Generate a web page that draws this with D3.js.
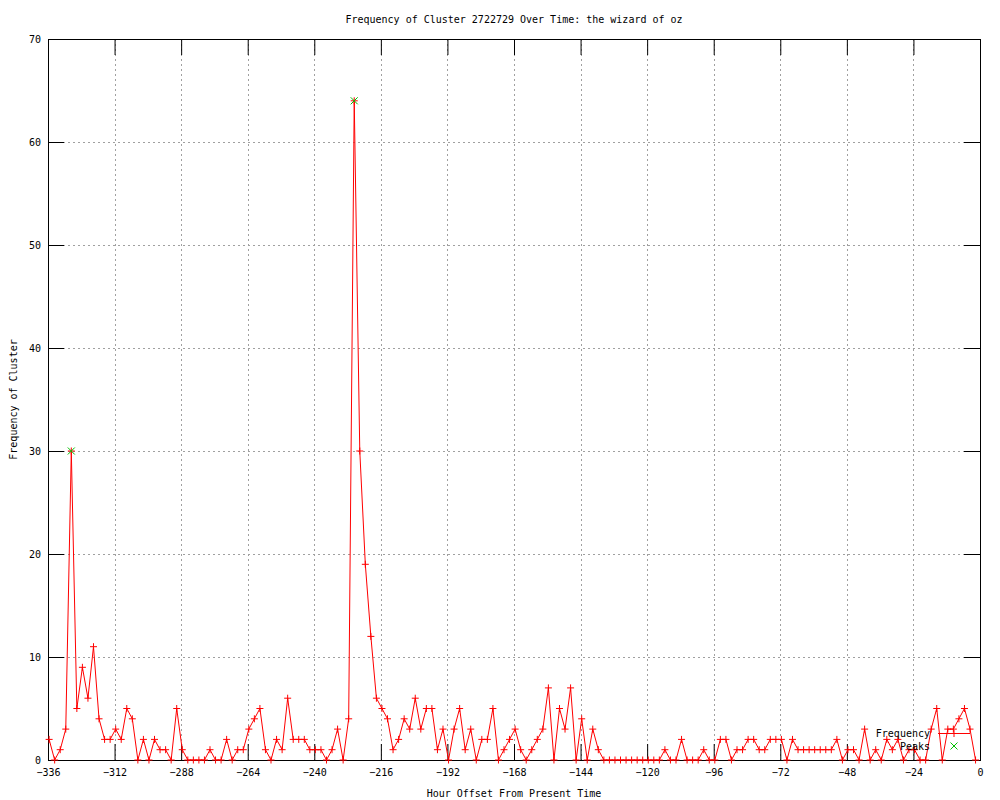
<!DOCTYPE html>
<html>
<head>
<meta charset="utf-8">
<script src="https://cdn.jsdelivr.net/npm/d3@7"></script>
<style>
  body { margin: 0; background: #fff; }
  svg text { font-family: "DejaVu Sans Mono", monospace; font-size: 10px; fill: #000; }
</style>
</head>
<body>
<svg width="1000" height="800"></svg>
<script>
// samples every 2 hours, first one at -335.6 h
var startHour = -335.6,
    stepHours = 2;

var counts = [
  2, 0, 1, 3, 30, 5, 9, 6, 11, 4, 2, 2, 3, 2, 5, 4, 0, 2, 0, 2,
  1, 1, 0, 5, 1, 0, 0, 0, 0, 1, 0, 0, 2, 0, 1, 1, 3, 4, 5, 1,
  0, 2, 1, 6, 2, 2, 2, 1, 1, 1, 0, 1, 3, 0, 4, 64, 30, 19, 12, 6,
  5, 4, 1, 2, 4, 3, 6, 3, 5, 5, 1, 3, 0, 3, 5, 1, 3, 0, 2, 2,
  5, 0, 1, 2, 3, 1, 0, 1, 2, 3, 7, 0, 5, 3, 7, 0, 4, 0, 3, 1,
  0, 0, 0, 0, 0, 0, 0, 0, 0, 0, 0, 1, 0, 0, 2, 0, 0, 0, 1, 0,
  0, 2, 2, 0, 1, 1, 2, 2, 1, 1, 2, 2, 2, 0, 2, 1, 1, 1, 1, 1,
  1, 1, 2, 0, 1, 1, 0, 3, 0, 1, 0, 2, 1, 2, 0, 1, 1, 0, 0, 3,
  5, 0, 3, 3, 4, 5, 3, 0
];

var peakHours = [-327.6, -225.6],
    peakCounts = [30, 64];

var xTicks = [-336, -312, -288, -264, -240, -216, -192, -168, -144, -120, -96, -72, -48, -24, 0],
    yTicks = [0, 10, 20, 30, 40, 50, 60, 70];

var data = counts.map(function(c, i) { return {hour: startHour + i * stepHours, count: c}; });
var peaks = peakHours.map(function(h, i) { return {hour: h, count: peakCounts[i]}; });

var svg = d3.select("svg"),
    margin = {top: 39, right: 20, bottom: 40, left: 48},
    width = 1000 - margin.left - margin.right,
    height = 800 - margin.top - margin.bottom,
    g = svg.append("g").attr("transform", "translate(" + margin.left + "," + margin.top + ")");

var x = d3.scaleLinear().domain([-336, 0]).range([0, width]);
var y = d3.scaleLinear().domain([0, 70]).range([height, 0]);

// grid
g.append("g").selectAll("line")
    .data(xTicks.slice(1, -1))
  .enter().append("line")
    .attr("x1", function(d) { return Math.round(x(d)) + 0.5; })
    .attr("x2", function(d) { return Math.round(x(d)) + 0.5; })
    .attr("y1", 0).attr("y2", height)
    .attr("stroke", "#a0a0a0").attr("stroke-dasharray", "2,3");

g.append("g").selectAll("line")
    .data(yTicks.slice(1, -1))
  .enter().append("line")
    .attr("y1", function(d) { return Math.round(y(d)) + 0.5; })
    .attr("y2", function(d) { return Math.round(y(d)) + 0.5; })
    .attr("x1", 0).attr("x2", width)
    .attr("stroke", "#a0a0a0").attr("stroke-dasharray", "2,3");

// axes, ticks pointing inwards like gnuplot
function styleAxis(sel) {
  sel.select(".domain").remove();
  sel.attr("font-family", null).attr("font-size", null);
  sel.selectAll(".tick line").attr("stroke", "#000");
}

g.append("g")
    .attr("transform", "translate(0," + height + ")")
    .call(d3.axisBottom(x).tickValues(xTicks).tickSize(-16).tickPadding(9))
    .call(styleAxis);

g.append("g")
    .call(d3.axisTop(x).tickValues(xTicks).tickSize(-16).tickFormat(""))
    .call(styleAxis);

g.append("g")
    .call(d3.axisLeft(y).tickValues(yTicks).tickSize(-16).tickPadding(7))
    .call(styleAxis);

g.append("g")
    .attr("transform", "translate(" + width + ",0)")
    .call(d3.axisRight(y).tickValues(yTicks).tickSize(-16).tickFormat(""))
    .call(styleAxis);

g.append("rect")
    .attr("x", 0.5).attr("y", 0.5)
    .attr("width", width).attr("height", height)
    .attr("fill", "none").attr("stroke", "#000");

// frequency line
var line = d3.line()
    .x(function(d) { return x(d.hour); })
    .y(function(d) { return y(d.count); });

g.append("path")
    .datum(data)
    .attr("fill", "none")
    .attr("stroke", "#ff0000")
    .attr("stroke-width", 1)
    .attr("d", line);

var plus = "M-3.5,0H3.5M0,-3.5V3.5";
var cross = "M-3.5,-3.5L3.5,3.5M-3.5,3.5L3.5,-3.5";

g.append("g").selectAll("path")
    .data(data)
  .enter().append("path")
    .attr("transform", function(d) { return "translate(" + x(d.hour) + "," + y(d.count) + ")"; })
    .attr("d", plus)
    .attr("stroke", "#ff0000")
    .attr("fill", "none");

g.append("g").selectAll("path")
    .data(peaks)
  .enter().append("path")
    .attr("transform", function(d) { return "translate(" + x(d.hour) + "," + y(d.count) + ")"; })
    .attr("d", cross)
    .attr("stroke", "#00c000")
    .attr("fill", "none");

// legend
var legend = svg.append("g").attr("transform", "translate(930,733)");
legend.append("text").attr("x", 0).attr("y", 0).attr("dy", "0.35em")
    .attr("text-anchor", "end").text("Frequency");
legend.append("line").attr("x1", 8).attr("x2", 40).attr("y1", 0.5).attr("y2", 0.5)
    .attr("stroke", "#ff0000");
legend.append("path").attr("transform", "translate(24,0.5)").attr("d", plus)
    .attr("stroke", "#ff0000");
legend.append("text").attr("x", 0).attr("y", 13).attr("dy", "0.35em")
    .attr("text-anchor", "end").text("Peaks");
legend.append("path").attr("transform", "translate(24,13)").attr("d", cross)
    .attr("stroke", "#00c000");

// titles
svg.append("text")
    .attr("x", margin.left + width / 2).attr("y", 19).attr("dy", "0.35em")
    .attr("text-anchor", "middle")
    .text("Frequency of Cluster 2722729 Over Time: the wizard of oz");

svg.append("text")
    .attr("x", margin.left + width / 2).attr("y", 793).attr("dy", "0.35em")
    .attr("text-anchor", "middle")
    .text("Hour Offset From Present Time");

svg.append("text")
    .attr("transform", "translate(13," + (margin.top + height / 2) + ") rotate(-90)")
    .attr("dy", "0.35em")
    .attr("text-anchor", "middle")
    .text("Frequency of Cluster");
</script>
</body>
</html>
